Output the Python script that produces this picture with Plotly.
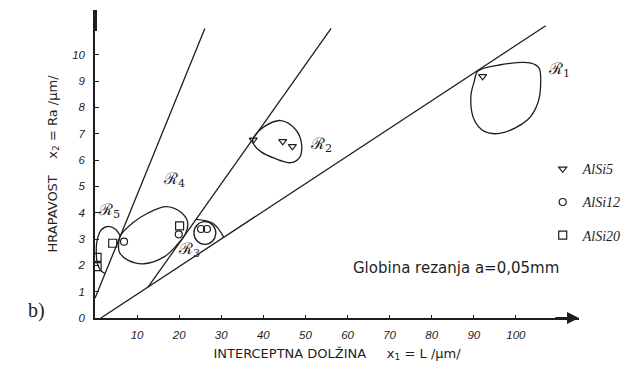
import plotly.graph_objects as go

INK = "#1e1e1e"

# axis extents (data units)
X_MAX = 115.0
Y_MAX = 11.7

x_ticks = [10, 20, 30, 40, 50, 60, 70, 80, 90, 100]
y_ticks = [0, 1, 2, 3, 4, 5, 6, 7, 8, 9, 10]

# straight separating lines (end points)
steep_x = [0.0, 26.1]
steep_y = [0.75, 11.0]
mid_x = [12.6, 56.1]
mid_y = [1.17, 11.0]
low_x = [1.4, 107.1]
low_y = [0.0, 11.1]

# region outlines
r1_x = [91.0, 96.4, 103.6, 105.5, 105.9, 105.2, 102.8, 96.4, 92.5, 90.1, 89.3, 90.1, 91.0]
r1_y = [9.38, 9.62, 9.68, 9.49, 8.92, 8.16, 7.53, 7.02, 7.09, 7.53, 8.41, 8.98, 9.38]

r2_x = [37.5, 40.2, 44.2, 47.7, 49.1, 48.5, 46.6, 42.6, 39.4, 37.8, 37.5]
r2_y = [6.80, 7.27, 7.50, 7.15, 6.58, 6.07, 5.90, 6.07, 6.32, 6.58, 6.80]

r3_arc_x = [24.0, 28.0, 30.6]
r3_arc_y = [3.75, 3.60, 3.07]
r3_ring_x = [23.5, 28.7]
r3_ring_y = [2.80, 3.66]

r4_x = [6.0, 9.0, 12.5, 16.9, 20.4, 22.0, 21.5, 19.6, 16.5, 11.7, 7.8, 5.8, 5.6, 6.0]
r4_y = [3.12, 3.62, 3.98, 4.23, 4.02, 3.65, 3.20, 2.80, 2.33, 2.06, 2.20, 2.50, 2.80, 3.12]

r5_x = [6.0, 4.8, 3.2, 1.5, 0.5, 0.3, 0.6, 1.5, 2.4]
r5_y = [3.12, 3.38, 3.48, 3.35, 2.95, 2.50, 2.05, 1.78, 1.69]

# measured samples
alsi5_x = [37.6, 44.6, 46.9, 92.1]
alsi5_y = [6.77, 6.71, 6.52, 9.18]
alsi12_x = [6.9, 19.9, 25.2, 26.6]
alsi12_y = [2.90, 3.18, 3.38, 3.38]
alsi20_x = [0.5, 0.5, 4.2, 20.1]
alsi20_y = [1.95, 2.30, 2.84, 3.50]

# region names and where they sit
region_names = ["ℛ<sub>1</sub>", "ℛ<sub>2</sub>", "ℛ<sub>3</sub>", "ℛ<sub>4</sub>", "ℛ<sub>5</sub>"]
region_lx = [110.2, 53.7, 22.3, 18.8, 3.3]
region_ly = [9.43, 6.58, 2.59, 5.25, 4.10]

fig = go.Figure()

line_style = dict(color=INK, width=1.3)
for xs, ys in [(steep_x, steep_y), (mid_x, mid_y), (low_x, low_y)]:
    fig.add_trace(go.Scatter(x=xs, y=ys, mode="lines", line=line_style,
                             showlegend=False, hoverinfo="skip"))

curve_style = dict(color=INK, width=1.3, shape="spline", smoothing=1.0)
for xs, ys in [(r1_x, r1_y), (r2_x, r2_y), (r3_arc_x, r3_arc_y), (r4_x, r4_y), (r5_x, r5_y)]:
    fig.add_trace(go.Scatter(x=xs, y=ys, mode="lines", line=curve_style,
                             showlegend=False, hoverinfo="skip"))

fig.add_shape(type="circle", xref="x", yref="y",
              x0=r3_ring_x[0], x1=r3_ring_x[1], y0=r3_ring_y[0], y1=r3_ring_y[1],
              line=dict(color=INK, width=1.3))

series = [
    ("AlSi5", alsi5_x, alsi5_y, "triangle-down-open", 7),
    ("AlSi12", alsi12_x, alsi12_y, "circle-open", 7),
    ("AlSi20", alsi20_x, alsi20_y, "square-open", 8),
]
for name, xs, ys, sym, sz in series:
    fig.add_trace(go.Scatter(
        x=xs, y=ys, mode="markers", name=name, legendgroup=name,
        marker=dict(symbol=sym, size=sz, color=INK, line=dict(width=1.2, color=INK)),
    ))

for txt, lx, ly in zip(region_names, region_lx, region_ly):
    fig.add_annotation(x=lx, y=ly, text=txt, showarrow=False,
                       font=dict(family="DejaVu Serif", size=16, color=INK))

fig.add_annotation(x=60.8, y=1.9, text="Globina rezanja a=0,05mm", showarrow=False,
                   xanchor="left", font=dict(family="DejaVu Sans", size=15, color=INK))

fig.add_annotation(xref="paper", yref="paper", x=-0.143, y=-0.02, text="b)",
                   showarrow=False, font=dict(family="Liberation Serif", size=20, color=INK))

# arrow heads at the ends of both axes
fig.add_annotation(x=X_MAX, y=0, ax=X_MAX - 6, ay=0, axref="x", ayref="y",
                   text="", showarrow=True, arrowhead=2, arrowsize=1.2,
                   arrowwidth=2, arrowcolor=INK, standoff=0)
fig.add_annotation(x=0, y=Y_MAX, ax=0, ay=Y_MAX - 0.85, axref="x", ayref="y",
                   text="", showarrow=True, arrowhead=0, arrowwidth=4,
                   arrowcolor=INK, standoff=0)

tick_font = dict(family="Liberation Sans", size=11.5, color=INK, style="italic")
title_font = dict(family="DejaVu Sans", size=13, color=INK)
nb = "\u00a0"

fig.update_xaxes(
    range=[0, X_MAX], showline=True, linecolor=INK, linewidth=1.5,
    showgrid=False, zeroline=False, tickvals=x_ticks, ticks="inside",
    ticklen=3, tickcolor=INK, tickfont=tick_font, ticklabelstandoff=5,
    title=dict(text=f"INTERCEPTNA DOLŽINA{nb*5}x<sub>1</sub>{nb}={nb}L{nb}/µm/",
               font=title_font, standoff=9),
)
fig.update_yaxes(
    range=[0, Y_MAX], showline=True, linecolor=INK, linewidth=1.5,
    showgrid=False, zeroline=False, tickvals=y_ticks, ticks="inside",
    ticklen=4, tickcolor=INK, tickfont=tick_font, ticklabelstandoff=6,
    title=dict(text=f"HRAPAVOST{nb*4}x<sub>2</sub>{nb}={nb}Ra{nb}/µm/",
               font=title_font, standoff=12),
)

fig.update_layout(
    width=641, height=368,
    margin=dict(l=95, r=62, t=10, b=50),
    paper_bgcolor="white", plot_bgcolor="white",
    legend=dict(x=0.925, y=0.535, xanchor="left", yanchor="top",
                tracegroupgap=12, bgcolor="rgba(0,0,0,0)",
                font=dict(family="Liberation Serif", size=14, color=INK, style="italic")),
)

fig.write_html("out.html")
